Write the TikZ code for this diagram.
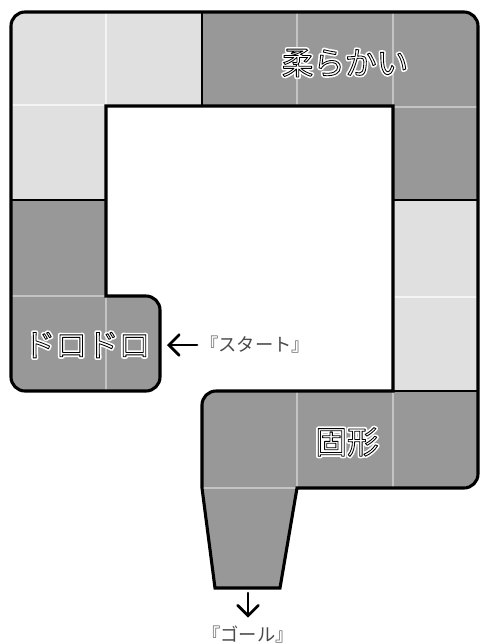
\documentclass[tikz,border=0pt]{standalone}
\usepackage{fontspec}
\newfontfamily\jpfont{Noto Sans CJK JP}
\usetikzlibrary{arrows.meta}
\definecolor{tileLight}{HTML}{E0E0E0}
\definecolor{tileDark}{HTML}{989898}
\definecolor{seamLight}{HTML}{F4F4F4}
\definecolor{seamDark}{HTML}{C4C4C4}
\definecolor{noteGray}{HTML}{4A4A4A}
% 白抜き文字（白い縁取り + 黒い輪郭）
\newcommand{\hollowtext}[1]{%
	\rlap{\special{pdf:literal direct 1 G 3.0 w 1 j 2 Tr}#1\special{pdf:literal direct 0 Tr}}%
	\special{pdf:literal direct 0 G 0.6 w 1 j 2 Tr}#1\special{pdf:literal direct 0 Tr}}
\tikzset{
	tilelabel/.style={text=white, inner sep=0pt, font=\jpfont\fontsize{22.5}{26}\selectfont},
	notelabel/.style={text=noteGray, inner sep=2pt, font=\jpfont\fontsize{13}{15}\selectfont},
	notearrow/.style={-{Straight Barb[length=2.6mm, width=5.2mm, line cap=round]}, line width=1.9pt, line cap=round},
}
\begin{document}
\begin{tikzpicture}[
					line join=miter,
					x=0.25mm, y=-0.25mm
					]
					\useasboundingbox (0,0) rectangle (480,644);
					
					% 格子の座標
					\coordinate (X0Y0) at (11,12);
					\coordinate (X5Y0) at (478,12);
					\coordinate (X1Y1) at (106,106);
					\coordinate (X4Y1) at (393,106);
					\coordinate (X1Y3) at (106,296);
					\coordinate (XDY3) at (160,296);
					\coordinate (XDY4) at (160,391);
					\coordinate (X0Y4) at (11,391);
					\coordinate (X2Y4) at (202,391);
					\coordinate (X4Y4) at (393,391);
					\coordinate (X5Y5) at (478,488);
					\coordinate (X3Y5) at (297,488);
					\coordinate (X2Y5) at (202,488);
					\coordinate (G1) at (280,588);
					\coordinate (G0) at (215,588);
					
					% 外形
					\path[save path=\board]
					(X4Y1) -- (X1Y1) -- (X1Y3) [rounded corners=3.5mm]
					-- (XDY3) -- (XDY4) -- (X0Y4) -- (X0Y0) -- (X5Y0) -- (X5Y5) [sharp corners]
					-- (X3Y5) -- (G1) -- (G0) -- (X2Y5) [rounded corners=3.5mm]
					-- (X2Y4) [sharp corners] -- (X4Y4) -- cycle;
					
					% マスの塗り
					\begin{scope}
						\clip[use path=\board];
						\fill[tileDark] (0,0) rectangle (480,644);
						\fill[tileLight] (0,0) rectangle (202,106);
						\fill[tileLight] (0,106) rectangle (106,200);
						\fill[tileLight] (393,200) rectangle (480,391);
					\end{scope}
					
					% マスの継ぎ目
					\draw[seamLight, line width=1.3pt] (106,12) -- (106,106);
					\draw[seamLight, line width=1.3pt] (11,105) -- (106,105);
					\draw[seamLight, line width=1.3pt] (393,297) -- (478,297);
					\draw[seamDark, line width=1.3pt] (297,12) -- (297,106);
					\draw[seamDark, line width=1.3pt] (393,12) -- (393,106);
					\draw[seamDark, line width=1.3pt] (393,107) -- (478,107);
					\draw[seamDark, line width=1.3pt] (11,296) -- (106,296);
					\draw[seamDark, line width=1.3pt] (106,296) -- (106,391);
					\draw[seamDark, line width=1.3pt] (297,391) -- (297,488);
					\draw[seamDark, line width=1.3pt] (393,391) -- (393,488);
					\draw[seamDark, line width=1.3pt] (202,488) -- (297,488);
					
					% 区域の境目
					\draw[line width=1.8pt] (202,12) -- (202,106);
					\draw[line width=1.8pt] (11,200) -- (106,200);
					\draw[line width=1.8pt] (393,200) -- (478,200);
					\draw[line width=1.8pt] (393,391) -- (478,391);
					
					\draw[line width=2.2pt, use path=\board];
					
					% 区域の名前
					\node[tilelabel] (soft) at (345,63) {\hollowtext{柔らかい}};
					\node[tilelabel] (doro) at (87,345) {\hollowtext{ドロドロ}};
					\node[tilelabel] (solid) at (347,442) {\hollowtext{固形}};
					
					% スタートとゴール
					\node[notelabel] (start) at (255,345) {『スタート』};
					\coordinate (startTip) at (167,345);
					\draw[notearrow] (start.west) -- (startTip);
					
					\node[notelabel] (goal) at (248,634) {『ゴール』};
					\coordinate (goalTail) at (248,593);
					\draw[notearrow, shorten >=1.2mm] (goalTail) -- (goal.north);
					
				\end{tikzpicture}
\end{document}
